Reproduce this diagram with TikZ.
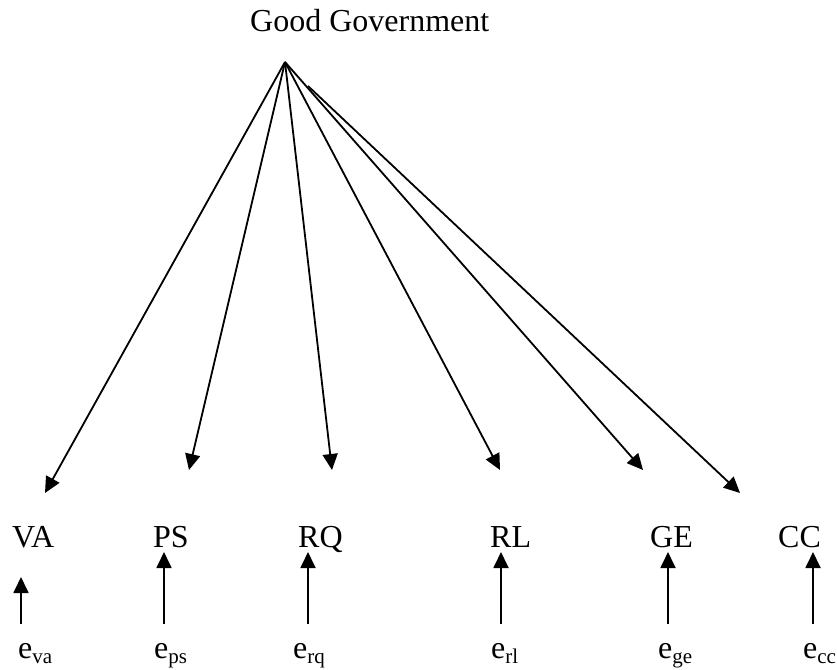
\documentclass[tikz,border=0pt]{standalone}
\usepackage{fontspec}
\setmainfont{Liberation Serif}
\usetikzlibrary{arrows.meta}
\newcommand{\esub}[1]{e\raisebox{-5pt}{\fontsize{21}{21}\selectfont #1}}
\begin{document}
\begin{tikzpicture}[x=1pt,y=-1pt,
  lbl/.style={anchor=base west,inner sep=0pt,font=\fontsize{32}{38}\selectfont},
  link/.style={line width=1.8pt,-{Triangle[length=16pt,width=15pt]}}]
\useasboundingbox (0,0) rectangle (837,669);
\node[lbl] (gg) at (250,32) {Good Government};
\coordinate (apex) at (285,62);
\coordinate (ccstart) at (308,86);
\node[lbl] (va) at (12,547) {VA};
\node[lbl] (ps) at (153,547) {PS};
\node[lbl] (rq) at (298,547) {RQ};
\node[lbl] (rl) at (490,547) {RL};
\node[lbl] (ge) at (650,547) {GE};
\node[lbl] (cc) at (778,547) {CC};
\coordinate (tva) at (45,493);
\coordinate (tps) at (189,470);
\coordinate (trq) at (332,470);
\coordinate (trl) at (500,470);
\coordinate (tge) at (643,470);
\coordinate (tcc) at (740,493);
\draw[link] (apex) -- (tva);
\draw[link] (apex) -- (tps);
\draw[link] (apex) -- (trq);
\draw[link] (apex) -- (trl);
\draw[link] (apex) -- (tge);
\draw[link] (ccstart) -- (tcc);
\node[lbl] (eva) at (18,658) {\esub{va}};
\node[lbl] (eps) at (154,658) {\esub{ps}};
\node[lbl] (erq) at (293,658) {\esub{rq}};
\node[lbl] (erl) at (491,658) {\esub{rl}};
\node[lbl] (ege) at (658,658) {\esub{ge}};
\node[lbl] (ecc) at (803,658) {\esub{cc}};
\coordinate (sva) at (21,624); \coordinate (hva) at (21,577);
\coordinate (sps) at (164,624); \coordinate (hps) at (164,552);
\coordinate (srq) at (308,624); \coordinate (hrq) at (308,552);
\coordinate (srl) at (501,624); \coordinate (hrl) at (501,552);
\coordinate (sge) at (668,624); \coordinate (hge) at (668,552);
\coordinate (scc) at (813,624); \coordinate (hcc) at (813,552);
\draw[link] (sva) -- (hva);
\draw[link] (sps) -- (hps);
\draw[link] (srq) -- (hrq);
\draw[link] (srl) -- (hrl);
\draw[link] (sge) -- (hge);
\draw[link] (scc) -- (hcc);
\end{tikzpicture}
\end{document}
